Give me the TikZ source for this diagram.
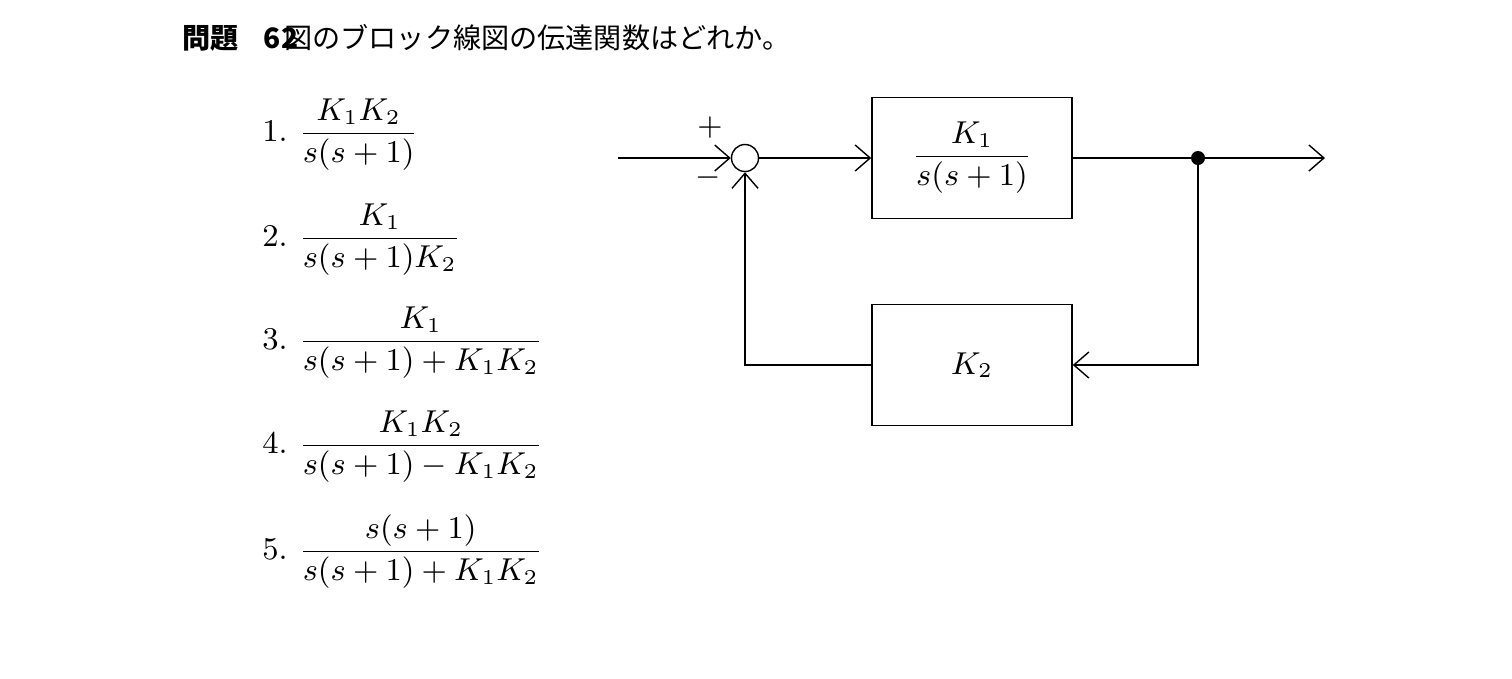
\documentclass[tikz,border=0pt]{standalone}
\usepackage{amsmath}
\usepackage{fontspec}
\newfontfamily\cjk{Noto Sans CJK JP}
\usetikzlibrary{positioning}
\usetikzlibrary{arrows.meta}
\begin{document}
\begin{tikzpicture}[x=0.01cm,y=-0.01cm,
    blk/.style={draw, minimum width=2cm, minimum height=1.21cm, font=\small},
    sig/.style={-{Straight Barb[length=1.5mm,width=2.6mm]}},
    opt/.style={right, font=\small}]
        \useasboundingbox (0,0) rectangle (1512,678);
        % Question
        \node[right, font=\cjk\bfseries\footnotesize] (q) at (170,38) {問題\hspace{0.9em}62};
        \node[right, font=\cjk\footnotesize] (qt) at (272,38) {図のブロック線図の伝達関数はどれか。};
        % Answer choices
        \node[opt] (a1) at (250,135) {1.\ $\dfrac{K_1K_2}{s(s+1)}$};
        \node[opt] (a2) at (250,240) {2.\ $\dfrac{K_1}{s(s+1)K_2}$};
        \node[opt] (a3) at (250,343) {3.\ $\dfrac{K_1}{s(s+1)+K_1K_2}$};
        \node[opt] (a4) at (250,447) {4.\ $\dfrac{K_1K_2}{s(s+1)-K_1K_2}$};
        \node[opt] (a5) at (250,552) {5.\ $\dfrac{s(s+1)}{s(s+1)+K_1K_2}$};
        % Block diagram
        \coordinate (in) at (618,158);
        \node[draw, circle, minimum size=0.27cm, inner sep=0pt] (sum) at (745,158) {};
        \node[blk] (g) at (972,158) {$\dfrac{K_1}{s(s+1)}$};
        \node[blk] (h) at (972,365) {$K_2$};
        \fill (1198,158) circle (0.07cm) coordinate (br);
        \coordinate (out) at (1325,158);
        \node[font=\small] (plus) at (710,128) {$+$};
        \node[font=\small] (minus) at (708,178) {$-$};
        \draw[sig] (in) -- (sum);
        \draw[sig] (sum) -- (g);
        \draw (g) -- (br);
        \draw[sig] (br) -- (out);
        \draw[sig] (br) |- (h);
        \draw[sig] (h) -| (sum);
    \end{tikzpicture}
\end{document}
